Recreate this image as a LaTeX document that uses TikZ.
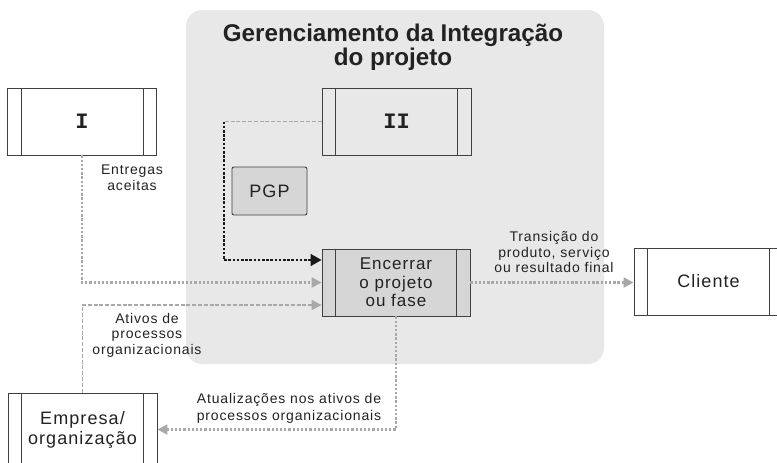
\documentclass[tikz,border=0pt]{standalone}
\usepackage{fontspec}
\setmainfont{Liberation Sans}
\newfontfamily\spaced{Liberation Sans}[LetterSpace=6]
\newfontfamily\monob{Liberation Mono}
\usetikzlibrary{arrows.meta}
\definecolor{regionc}{HTML}{E8E8E8}
\definecolor{boxfill}{HTML}{D6D6D6}
\definecolor{boxc}{HTML}{404040}
\definecolor{txtc}{HTML}{222222}
\definecolor{lightc}{HTML}{A8A8A8}
\definecolor{darkc}{HTML}{1A1A1A}
\tikzset{
  procbox/.style={draw=boxc, line width=0.9pt, minimum width=149pt, minimum height=67pt,
    inner sep=0pt, align=center, text=txtc,
    path picture={
      \draw[boxc,line width=0.9pt] ([xshift=13.5pt]path picture bounding box.north west) -- ([xshift=13.5pt]path picture bounding box.south west);
      \draw[boxc,line width=0.9pt] ([xshift=-13.5pt]path picture bounding box.north east) -- ([xshift=-13.5pt]path picture bounding box.south east);
    }},
  lbl/.style={font=\spaced\fontsize{14}{15.5}\selectfont, align=center, text=txtc, inner sep=0pt},
  graytip/.style={-{Triangle[length=10pt,width=10pt,color=lightc]}},
  lightdots/.style={draw=lightc, line width=2.2pt, dash pattern=on 2.3pt off 1.9pt},
  lightdash/.style={draw=lightc, line width=1.3pt, dash pattern=on 4pt off 1.8pt},
  darkdots/.style={draw=darkc, line width=1.6pt, dash pattern=on 2.6pt off 1.6pt}
}
\begin{document}
\begin{tikzpicture}[x=1pt,y=-1pt]
\useasboundingbox (0,0) rectangle (777,463);
\clip (0,0) rectangle (777,463);
\fill[regionc, rounded corners=16pt] (186,10) rectangle (604,364);

\node[font=\fontsize{24.2}{22}\selectfont\bfseries, align=center, text=txtc, inner sep=0pt] (title) at (393,47.5) {Gerenciamento da Integração\\do projeto};

\node[procbox, font=\monob\bfseries\fontsize{22}{22}\selectfont] (I) at (82,121.5) {I};
\node[procbox, font=\monob\bfseries\fontsize{22}{22}\selectfont] (II) at (396.5,121.5) {II};
\node[draw=boxc, fill=boxfill, line width=0.9pt, rounded corners=2pt, minimum width=75pt, minimum height=48pt, inner sep=0pt, text=txtc, font=\spaced\fontsize{18}{18}\selectfont] (pgp) at (269.5,191) {PGP};
\node[procbox, fill=boxfill, minimum width=148pt, font=\spaced\fontsize{17}{18.5}\selectfont] (enc) at (396,282.5) {Encerrar\\o projeto\\ou fase};
\node[procbox, font=\spaced\fontsize{18}{20}\selectfont] (cli) at (708.5,281.5) {Cliente};
\node[procbox, minimum height=73pt, font=\spaced\fontsize{18}{20}\selectfont] (emp) at (82.5,429.5) {Empresa/\\organização};

\node[lbl] (lent) at (132,178) {Entregas\\aceitas};
\node[lbl] (ltrans) at (554,252) {Transição do\\produto, serviço\\ou resultado final};
\node[lbl] (lativ) at (147,335) {Ativos de\\processos\\organizacionais};
\node[lbl, font=\spaced\fontsize{14}{17}\selectfont] (latual) at (289,408) {Atualizações nos ativos de\\processos organizacionais};

\coordinate (bend) at (224,121.5);
\draw[lightdash] (II.west) -- (bend);
\draw[darkdots, -{Triangle[length=11pt,width=12pt,color=darkc]}] (bend) |- ([yshift=22.5pt]enc.west);
\draw[lightdots, graytip] (I.south) |- (enc.west);
\draw[lightdash, graytip] (emp.north) |- ([yshift=-22.5pt]enc.west);
\draw[lightdots, graytip] (enc.east) -- (enc.east -| cli.west);
\draw[lightdots, graytip] (enc.south) |- (emp.east);
\end{tikzpicture}
\end{document}
